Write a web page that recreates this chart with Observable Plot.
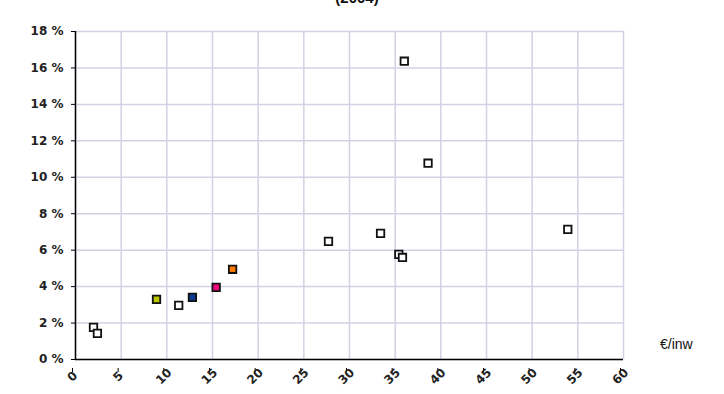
<!DOCTYPE html>
<html>
<head>
<meta charset="utf-8">
<script src="https://cdn.jsdelivr.net/npm/d3@7"></script>
<script src="https://cdn.jsdelivr.net/npm/@observablehq/plot@0.6"></script>
<style>
  html, body { margin: 0; padding: 0; background: #fff; }
  #wrap { position: relative; width: 724px; height: 394px; overflow: hidden; }
  #title { position: absolute; top: -11px; left: 300px; width: 114px; text-align: center;
           font: bold 15px "Liberation Sans", Arial, sans-serif; color: #111; }
  #unit { position: absolute; left: 660px; top: 336px; font: 14px "Liberation Sans", Arial, sans-serif; color: #111; }
</style>
</head>
<body>
<div id="wrap">
  <div id="title">(2004)</div>
  <div id="chart"></div>
  <div id="unit">€/inw</div>
</div>
<script>
const xVals = [1.97, 2.4, 8.87, 11.3, 12.8, 15.4, 17.2, 27.7, 33.4, 35.4, 35.8, 36.0, 38.6, 53.9];
const yVals = [1.76, 1.43, 3.30, 2.97, 3.41, 3.96, 4.95, 6.48, 6.92, 5.77, 5.60, 16.37, 10.77, 7.14];
const fillColors = ["#ffffff", "#ffffff", "#b8c400", "#ffffff", "#0a3a94", "#f0087e", "#ff7a00",
                    "#ffffff", "#ffffff", "#ffffff", "#ffffff", "#ffffff", "#ffffff", "#ffffff"];
const xTicks = [0, 5, 10, 15, 20, 25, 30, 35, 40, 45, 50, 55, 60];
const yTicks = [0, 2, 4, 6, 8, 10, 12, 14, 16, 18];

const data = xVals.map((x, i) => ({x, y: yVals[i], fill: fillColors[i]}));

const chart = Plot.plot({
  width: 724,
  height: 394,
  marginLeft: 75,
  marginRight: 101,
  marginTop: 31,
  marginBottom: 35,
  style: {fontFamily: "'DejaVu Sans', sans-serif", fontSize: "12px", color: "#222", background: "#fff"},
  x: {domain: [0, 60]},
  y: {domain: [0, 18]},
  marks: [
    Plot.gridX(xTicks, {stroke: "#d2d2e4", strokeOpacity: 1, strokeWidth: 1.5}),
    Plot.gridY(yTicks, {stroke: "#d2d2e4", strokeOpacity: 1, strokeWidth: 1.5}),
    Plot.axisY({ticks: yTicks, tickSize: 4, tickPadding: 8, tickFormat: d => d + " %", label: null, stroke: "#000", fontWeight: "bold"}),
    Plot.axisX({ticks: xTicks, tickSize: 4, tickPadding: 4, tickRotate: -45, textAnchor: "middle", dy: 9, dx: -3, label: null, stroke: "#000", fontWeight: "bold"}),
    Plot.ruleX([0], {stroke: "#000", strokeWidth: 1.5}),
    Plot.ruleY([0], {stroke: "#000", strokeWidth: 1.5}),
    Plot.dot(data, {x: "x", y: "y", symbol: "square", r: 4.2, fill: "fill", stroke: "#111", strokeWidth: 1.8})
  ]
});
document.getElementById("chart").appendChild(chart);
</script>
</body>
</html>
